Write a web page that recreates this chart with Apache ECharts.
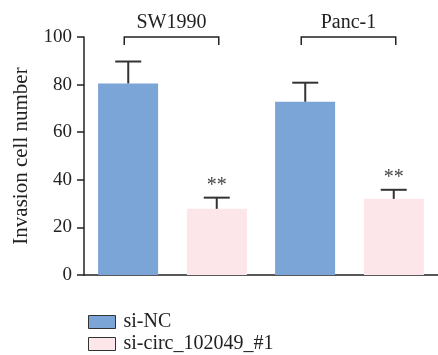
<!DOCTYPE html>
<html>
<head>
<meta charset="utf-8">
<script src="https://cdn.jsdelivr.net/npm/echarts@6/dist/echarts.min.js"></script>
<style>
  html, body { margin: 0; padding: 0; background: #fff; }
  #chart { width: 438px; height: 355px; }
</style>
</head>
<body>
<div id="chart"></div>
<script>
// cell lines and groups
const cellLines = ['SW1990', 'Panc-1']
const groups = ['si-NC', 'si-circ_102049_#1']
// mean invasion cell number
const siNC = [80.5, 72.8]
const siCirc = [27.8, 32.0]
// upper error (SD)
const siNCErr = [9.2, 8.0]
const siCircErr = [4.7, 3.8]
const siCircMark = ['**', '**']
const yTicks = [0, 20, 40, 60, 80, 100]

const FONT = 'Liberation Serif'
const AXIS = '#222'

const myChart = echarts.init(document.getElementById('chart'))

// error whisker (upper only) + significance mark
const errorSeries = (vals, errs, marks, side) => ({
  type: 'custom',
  z: 5,
  data: vals.map((v, i) => [i, v, errs[i], marks ? marks[i] : '']),
  renderItem(params, api) {
    const bw = api.size([1, 0])[0]
    const base = api.coord([api.value(0), api.value(1)])
    const top = api.coord([api.value(0), api.value(1) + api.value(2)])
    const x = base[0] + side * bw * 0.25
    const children = [
      { type: 'line', shape: { x1: x, y1: base[1], x2: x, y2: top[1] }, style: { stroke: '#333', lineWidth: 2 } },
      { type: 'line', shape: { x1: x - 13, y1: top[1], x2: x + 13, y2: top[1] }, style: { stroke: '#333', lineWidth: 2 } },
    ]
    const mark = api.value(3)
    if (mark) {
      children.push({
        type: 'text',
        style: { text: mark, x: x, y: top[1] - 2, align: 'center', verticalAlign: 'bottom', font: '20px "' + FONT + '"', fill: '#444' },
      })
    }
    return { type: 'group', children }
  },
})

// one legend block per group, stacked
const legendItem = (name, top) => ({
  left: 83,
  top: top,
  itemWidth: 27,
  itemHeight: 13,
  icon: 'rect',
  itemStyle: { borderColor: '#333', borderWidth: 1 },
  textStyle: { fontFamily: FONT, fontSize: 20, color: '#222', padding: [0, 0, 0, 3] },
  data: [name],
})

myChart.setOption({
  animation: false,
  grid: { left: 84, right: -2, top: 37, bottom: 80 },
  legend: [legendItem(groups[0], 307), legendItem(groups[1], 329)],
  xAxis: {
    type: 'category',
    data: cellLines,
    axisLine: { lineStyle: { color: AXIS, width: 1.5 } },
    axisTick: { length: 8, lineStyle: { color: AXIS, width: 1.5 } },
    axisLabel: { show: false },
  },
  yAxis: {
    type: 'value',
    min: yTicks[0],
    max: yTicks[yTicks.length - 1],
    interval: 20,
    name: 'Invasion cell number',
    nameLocation: 'middle',
    nameGap: 52,
    nameTextStyle: { fontFamily: FONT, fontSize: 21, color: '#222' },
    splitLine: { show: false },
    axisLine: { show: true, lineStyle: { color: AXIS, width: 1.5 } },
    axisTick: { show: true, length: 7, lineStyle: { color: AXIS, width: 1.5 } },
    axisLabel: { fontFamily: FONT, fontSize: 19, color: '#222', margin: 12 },
  },
  series: [
    {
      name: groups[0],
      type: 'bar',
      data: siNC,
      barWidth: 60,
      barGap: '48%',
      itemStyle: { color: '#7BA4D7' },
    },
    {
      name: groups[1],
      type: 'bar',
      data: siCirc,
      barWidth: 60,
      itemStyle: { color: '#FDE6E9' },
    },
    errorSeries(siNC, siNCErr, null, -1),
    errorSeries(siCirc, siCircErr, siCircMark, 1),
    {
      // group brackets with cell line names
      type: 'custom',
      z: 5,
      data: cellLines.map((c, i) => [i, yTicks[yTicks.length - 1]]),
      renderItem(params, api) {
        const bw = api.size([1, 0])[0]
        const p = api.coord([api.value(0), api.value(1)])
        const x1 = p[0] - bw * 0.25 - 4
        const x2 = p[0] + bw * 0.25 + 2
        const y = p[1]
        return {
          type: 'group',
          children: [
            {
              type: 'polyline',
              shape: { points: [[x1, y + 8], [x1, y], [x2, y], [x2, y + 8]] },
              style: { stroke: '#222', lineWidth: 1.5, fill: null },
            },
            {
              type: 'text',
              style: { text: cellLines[api.value(0)], x: (x1 + x2) / 2, y: y - 4, align: 'center', verticalAlign: 'bottom', font: '20px "' + FONT + '"', fill: '#222' },
            },
          ],
        }
      },
    },
  ],
})
</script>
</body>
</html>
